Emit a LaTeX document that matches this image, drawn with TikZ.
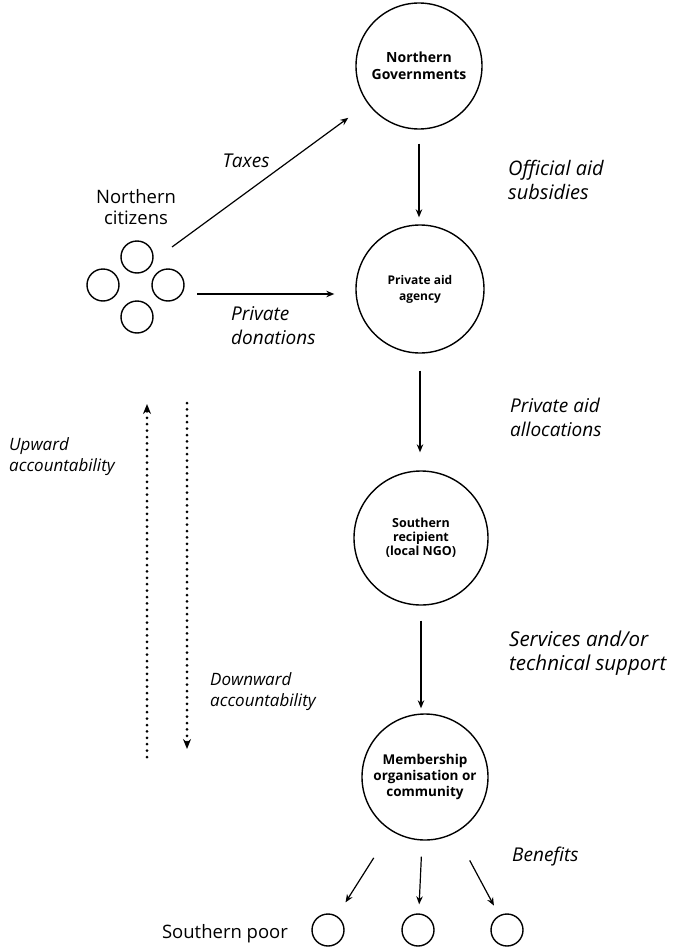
\documentclass[tikz,border=0pt]{standalone}
\usepackage{fontspec}
\setmainfont{Open Sans}
\usetikzlibrary{arrows.meta}
\begin{document}
\begin{tikzpicture}[x=1pt,y=-1pt,
  circ/.style={circle,draw,line width=1.4pt,minimum size=#1,inner sep=0pt,align=center},
  sc/.style={circle,draw,line width=1.4pt,minimum width=32pt,minimum height=30pt,inner sep=0pt},
  arr/.style={-{Stealth[length=8pt,width=6.5pt]},line width=1.2pt},
  lab/.style={font=\itshape\fontsize{19}{24}\selectfont,align=left,inner sep=0pt,anchor=west},
  slab/.style={font=\itshape\fontsize{17}{21}\selectfont,align=left,inner sep=0pt,anchor=west},
  plain/.style={font=\fontsize{18.5}{21}\selectfont,align=center,inner sep=0pt},
  dotl/.style={line width=3pt,dash pattern=on 0pt off 6.4pt,line cap=round,
    -{Stealth[length=10pt,width=8pt]}}
]
\useasboundingbox (0,0) rectangle (675,950);

% main circles
\node[circ=126pt,font=\bfseries\fontsize{14}{17}\selectfont] (ng) at (419,66) {Northern\\Governments};
\node[circ=128pt,font=\bfseries\fontsize{12}{16}\selectfont] (paa) at (420,289) {Private aid\\agency};
\node[circ=134pt,font=\bfseries\fontsize{12.5}{14}\selectfont] (sr) at (421,538) {Southern\\recipient\\(local NGO)};
\node[circ=126pt,font=\bfseries\fontsize{13.5}{16}\selectfont] (mo) at (425,777) {Membership\\organisation or\\community};

% southern poor
\node[sc] (sp1) at (328,930) {};
\node[sc] (sp2) at (418,930) {};
\node[sc] (sp3) at (507,930) {};
\node[plain] (spl) at (225,934) {Southern poor};

% northern citizens
\node[plain] (ncl) at (136,207) {Northern\\citizens};
\node[sc] (ncT) at (137,257) {};
\node[sc] (ncL) at (103,285) {};
\node[sc] (ncR) at (168,285) {};
\node[sc] (ncB) at (137,317) {};

% vertical flow arrows
\draw[arr,shorten <=14pt,shorten >=7pt] (ng.south) -- (ng.south |- paa.north);
\draw[arr,shorten <=17pt,shorten >=18pt] (paa.south) -- (paa.south |- sr.north);
\draw[arr,shorten <=15pt,shorten >=5pt] (sr.south) -- (sr.south |- mo.north);

% taxes and donations
\coordinate (taxstart) at (172,247);
\draw[arr,shorten >=24pt] (taxstart) -- (ng);
\coordinate (donstart) at (197,294);
\draw[arr,shorten >=21pt] (donstart) -- (donstart -| paa.west);

% benefits
\draw[arr,shorten <=32pt,shorten >=16pt] (mo) -- (sp1);
\draw[arr,shorten <=16pt,shorten >=9pt] (mo) -- (sp2);
\draw[arr,shorten <=31pt,shorten >=11pt] (mo) -- (sp3);

% accountability
\coordinate (upbot) at (147,757);
\coordinate (uptop) at (147,404);
\coordinate (dntop) at (187,403);
\coordinate (dnbot) at (187,749);
\draw[dotl] (upbot) -- (uptop);
\draw[dotl] (dntop) -- (dnbot);

% labels
\node[font=\itshape\fontsize{19}{24}\selectfont,inner sep=0pt] (tax) at (246,161) {Taxes};
\node[lab] (don) at (231,326) {Private\\donations};
\node[lab,font=\itshape\fontsize{20}{24}\selectfont] (oas) at (508,180) {Official aid\\subsidies};
\node[lab] (paal) at (510,417) {Private aid\\allocations};
\node[lab,font=\itshape\fontsize{20.5}{24}\selectfont] (svc) at (509,653) {Services and/or\\technical support};
\node[lab] (ben) at (512,857) {Benefits};
\node[slab] (up) at (9,457) {Upward\\accountability};
\node[slab] (down) at (210,692) {Downward\\accountability};
\end{tikzpicture}
\end{document}
